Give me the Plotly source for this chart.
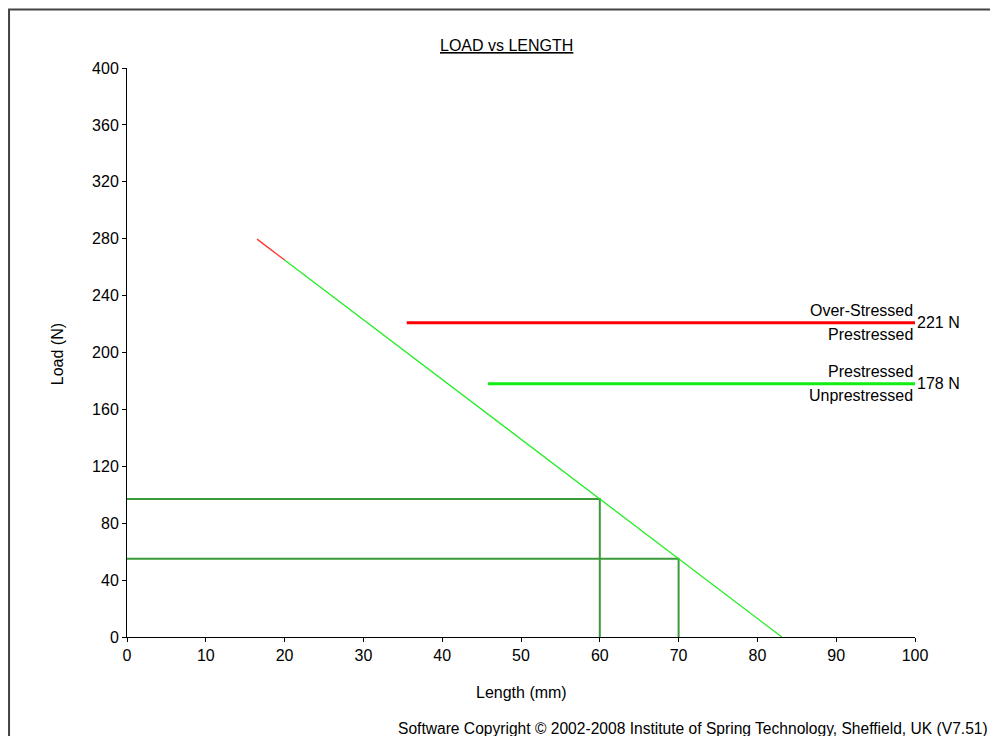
import plotly.graph_objects as go

# Data
load_line_red_x = [16.5, 20.0]
load_line_red_y = [279.7, 265.0]
load_line_green_x = [20.0, 83.1]
load_line_green_y = [265.0, 0.0]

op1_x = [0, 60, 60]
op1_y = [97, 97, 0]
op2_x = [0, 70, 70]
op2_y = [55, 55, 0]

over_x = [35.5, 100]
over_y = [221, 221]
pre_x = [45.8, 100]
pre_y = [178, 178]

x_ticks = list(range(0, 101, 10))
y_ticks = list(range(0, 401, 40))

FONT = "Liberation Sans, Arial, sans-serif"
FS = 16

fig = go.Figure()

fig.add_trace(go.Scatter(x=op1_x, y=op1_y, mode="lines",
                         line=dict(color="#3a9a3a", width=2), hoverinfo="skip"))
fig.add_trace(go.Scatter(x=op2_x, y=op2_y, mode="lines",
                         line=dict(color="#3a9a3a", width=2), hoverinfo="skip"))
fig.add_trace(go.Scatter(x=load_line_green_x, y=load_line_green_y, mode="lines",
                         line=dict(color="#22ee22", width=1.3), hoverinfo="skip"))
fig.add_trace(go.Scatter(x=load_line_red_x, y=load_line_red_y, mode="lines",
                         line=dict(color="#ff3333", width=1.3), hoverinfo="skip"))
fig.add_trace(go.Scatter(x=over_x, y=over_y, mode="lines",
                         line=dict(color="#ff0000", width=3), hoverinfo="skip"))
fig.add_trace(go.Scatter(x=pre_x, y=pre_y, mode="lines",
                         line=dict(color="#11ee11", width=3), hoverinfo="skip"))

ann_font = dict(family=FONT, size=FS, color="#000")
annotations = [
    dict(x=100, y=over_y[1], text="Over-Stressed", xanchor="right", yanchor="middle",
         yshift=12, showarrow=False, font=ann_font),
    dict(x=100, y=over_y[1], text="Prestressed", xanchor="right", yanchor="middle",
         yshift=-12, showarrow=False, font=ann_font),
    dict(x=100, y=over_y[1], text=f"{over_y[1]} N", xanchor="left", yanchor="middle",
         xshift=0, showarrow=False, font=ann_font),
    dict(x=100, y=pre_y[1], text="Prestressed", xanchor="right", yanchor="middle",
         yshift=12, showarrow=False, font=ann_font),
    dict(x=100, y=pre_y[1], text="Unprestressed", xanchor="right", yanchor="middle",
         yshift=-12, showarrow=False, font=ann_font),
    dict(x=100, y=pre_y[1], text=f"{pre_y[1]} N", xanchor="left", yanchor="middle",
         xshift=0, showarrow=False, font=ann_font),
    dict(xref="paper", yref="paper", x=0.482, y=1.0404, text="<u>LOAD vs LENGTH</u>",
         xanchor="center", yanchor="middle", showarrow=False, font=ann_font),
    dict(xref="paper", yref="paper", x=0.5, y=-0.0967, text="Length (mm)",
         xanchor="center", yanchor="middle", showarrow=False, font=ann_font),
    dict(xref="paper", yref="paper", x=-0.0888, y=0.497, text="Load (N)", textangle=-90,
         xanchor="center", yanchor="middle", showarrow=False, font=ann_font),
    dict(xref="paper", yref="paper", x=1.0955, y=-0.161,
         text="Software Copyright © 2002-2008 Institute of Spring Technology, Sheffield, UK (V7.51)",
         xanchor="right", yanchor="middle", showarrow=False,
         font=dict(family=FONT, size=15.6, color="#000")),
]

shapes = [
    dict(type="rect", xref="paper", yref="paper", x0=-0.1497, y0=-1.0, x1=2.0, y1=1.1028,
         line=dict(color="#444", width=2), fillcolor="rgba(0,0,0,0)", layer="below"),
]

fig.update_layout(
    width=990, height=728,
    margin=dict(l=119, r=83, t=60, b=99),
    paper_bgcolor="white", plot_bgcolor="white",
    showlegend=False,
    font=dict(family=FONT, size=FS, color="#000"),
    annotations=annotations,
    shapes=shapes,
    xaxis=dict(range=[0, 100], tickvals=x_ticks, showgrid=False, zeroline=False,
               showline=True, linecolor="#000", linewidth=1, ticks="outside",
               ticklen=4, tickcolor="#000", tickfont=dict(family=FONT, size=FS)),
    yaxis=dict(range=[0, 400], tickvals=y_ticks, showgrid=False, zeroline=False,
               showline=True, linecolor="#000", linewidth=1, ticks="outside",
               ticklen=4, tickcolor="#000", tickfont=dict(family=FONT, size=FS)),
)

fig.write_html("out.html")
